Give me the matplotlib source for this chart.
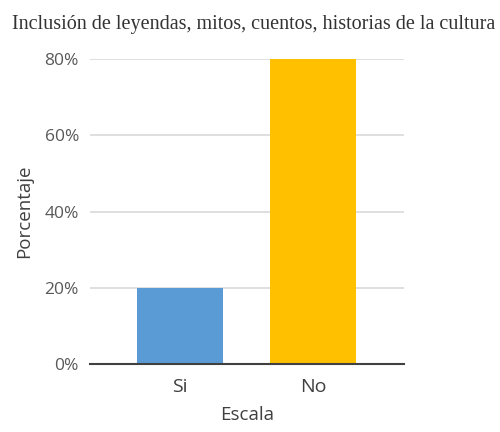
import matplotlib
matplotlib.use("Agg")
import matplotlib.pyplot as plt
from matplotlib.ticker import PercentFormatter

categories = ["Si", "No"]
values = [20, 80]
bar_colors = ["#5B9BD5", "#FFC000"]
y_ticks = [0, 20, 40, 60, 80]

fig = plt.figure(figsize=(5.0, 4.32), dpi=100)
ax = fig.add_axes([0.18, 0.157, 0.628, 0.706])

x = list(range(len(categories)))
ax.bar(x, values, width=0.65, color=bar_colors, zorder=3)

ax.set_xlim(-0.677, 1.684)
ax.set_ylim(0, 80)
ax.set_yticks(y_ticks)
ax.yaxis.set_major_formatter(PercentFormatter(decimals=0))
ax.set_xticks(x)
ax.set_xticklabels(categories)

ax.grid(axis="y", color="#D9D9D9", linewidth=1.2, zorder=0)
for s in ("top", "right", "left"):
  ax.spines[s].set_visible(False)
ax.spines["bottom"].set_color("#404040")
ax.spines["bottom"].set_linewidth(1.5)
ax.spines["bottom"].set_zorder(4)
ax.tick_params(length=0, labelsize=12.5, labelcolor="#595959", pad=8)
ax.tick_params(axis="x", labelsize=14, labelcolor="#404040", pad=10)
for lab in ax.get_xticklabels() + ax.get_yticklabels():
  lab.set_family("Open Sans")

ax.set_ylabel("Porcentaje", fontsize=13.5, color="#404040", family="Open Sans", labelpad=8)
ax.set_xlabel("Escala", fontsize=13.5, color="#404040", family="Open Sans", labelpad=7)

fig.text(0.024, 0.944, "Inclusión de leyendas, mitos, cuentos, historias de la cultura",
         fontsize=14.5, family="Liberation Serif", color="#333333", va="center", ha="left")

fig.savefig("out.png", dpi=100, facecolor="white")
